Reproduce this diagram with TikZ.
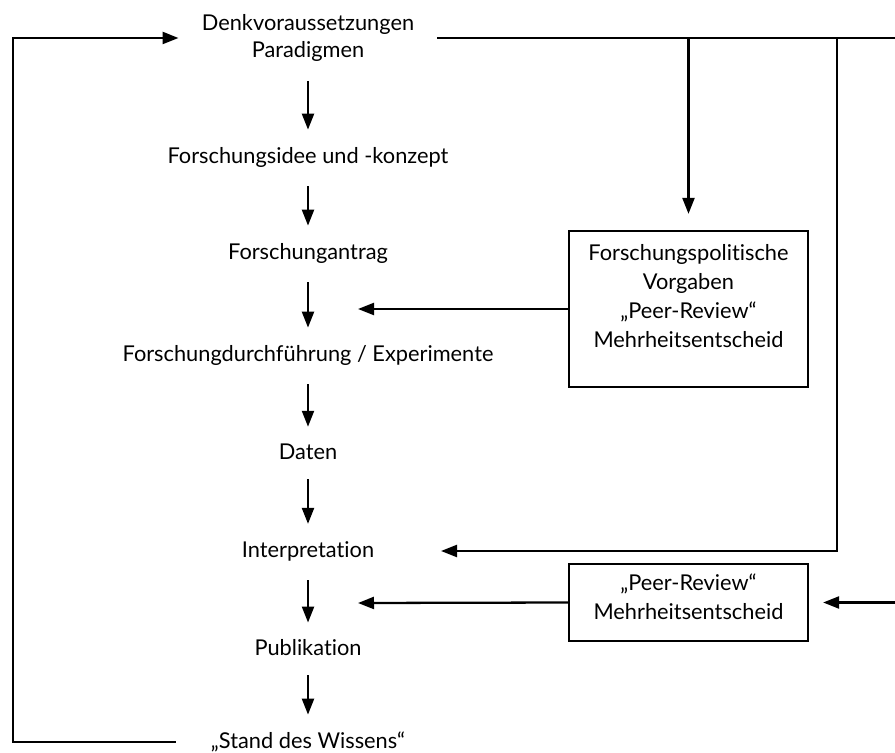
\documentclass[tikz,border=0pt]{standalone}
\usepackage{fontspec}
\setmainfont{Lato}[Ligatures={NoCommon,NoContextual}]
\usetikzlibrary{arrows.meta, positioning}

\begin{document}
\begin{tikzpicture}[
    x=0.02cm, y=-0.02cm, % 1 unit = 1 px of the sketch
    stage/.style={
      align=center,
      inner ysep=0pt,
      inner xsep=0.46cm, % gap to the loop lines
      font=\fontsize{12.4}{15.5}\selectfont
    },
    panel/.style={
      rectangle,
      draw,
      line width=1.3pt,
      minimum width=4.78cm,
      inner sep=0pt,
      align=center,
      font=\fontsize{12.4}{16.5}\selectfont
    },
    link/.style={line width=1.3pt},
    arrow/.style={
      link,
      -{Triangle[length=0.32cm, width=0.24cm]}
    },
    down/.style={arrow, shorten <=0.38cm, shorten >=0.34cm}
  ]
  \useasboundingbox (0,0) rectangle (895,753);

  % Stufen des Forschungsablaufs
  \node[stage] (denk) at (308,38) {Denkvoraussetzungen\\Paradigmen};
  \node[stage] (idee) at (308,157) {Forschungsidee und -konzept};
  \node[stage] (antrag) at (308,253) {Forschungantrag};
  \node[stage] (durch) at (308,355) {Forschungdurchführung / Experimente};
  \node[stage] (daten) at (308,452) {Daten};
  \node[stage] (interp) at (308,551) {Interpretation};
  \node[stage] (publ) at (308,648) {Publikation};
  \node[stage, inner xsep=0.7cm] (stand) at (308,742) {„Stand des Wissens“};

  % Kästen rechts
  \node[panel, minimum height=3.12cm, text depth=0.52cm] (vorgaben) at (688.5,309)
    {Forschungspolitische\\Vorgaben\\„Peer-Review“\\Mehrheitsentscheid};
  \node[panel, minimum height=1.54cm, text depth=0.24cm] (review) at (688.5,602.5)
    {„Peer-Review“\\Mehrheitsentscheid};

  % Hilfspunkte
  \coordinate (loop) at (13,400);
  \coordinate (rim) at (910,300); % ausserhalb des Bildes
  \coordinate (tap) at (837,38);
  \coordinate (interpIn) at (441,551);
  \coordinate (rev1) at (358,309);
  \coordinate (rev2) at (358,603);

  % Pfeile nach unten
  \foreach \a/\b in {denk/idee, idee/antrag, antrag/durch, durch/daten,
                     daten/interp, interp/publ, publ/stand}
    \draw[down] (\a) -- (\b);

  % Rückkopplung links
  \draw[arrow] (stand.west) -| (loop) |- (denk.west);

  % Leitung oben und Abzweige
  \draw[arrow, shorten >=0.28cm] (denk.east) -| (rim) |- (review.east);
  \draw[arrow, shorten >=0.32cm] (vorgaben.north |- denk.east) -- (vorgaben.north);
  \draw[arrow] (tap) |- (interpIn);

  % Einflüsse der Kästen
  \draw[arrow] (vorgaben.west) -- (rev1);
  \draw[arrow] (review.west) -- (rev2);

\end{tikzpicture}
\end{document}
